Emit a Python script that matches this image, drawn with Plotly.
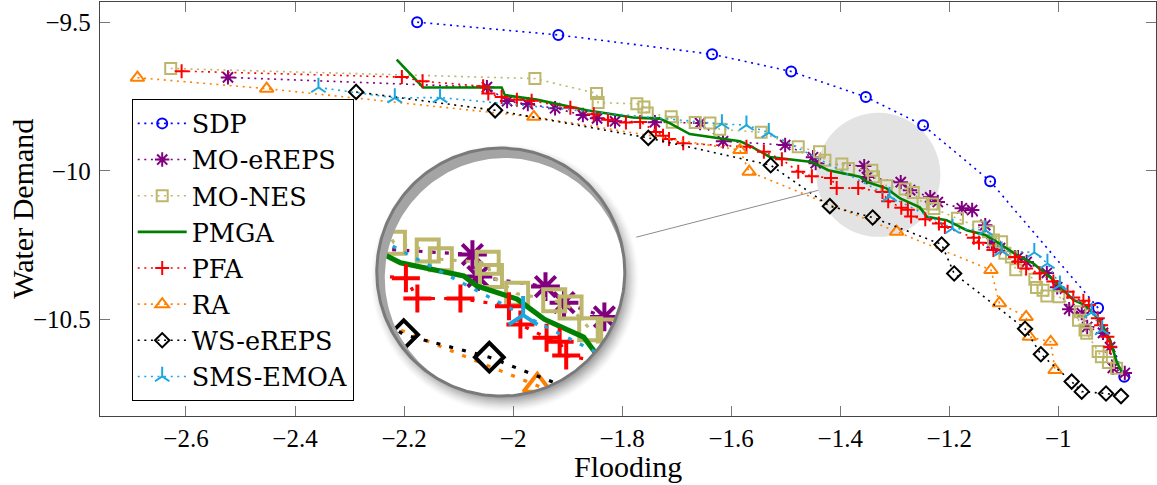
import numpy as np
import plotly.graph_objects as go

# ---------------- data ----------------
SDP_X = [-2.176, -1.917, -1.635, -1.490, -1.353, -1.248, -1.125, -0.927, -0.879]
SDP_Y = [-9.499, -9.542, -9.607, -9.665, -9.751, -9.846, -10.035, -10.462, -10.694]

MOEREPS_X = [-2.523, -2.048, -2.011, -1.973, -1.923, -1.872, -1.846, -1.813, -1.740, -1.657,
             -1.615, -1.501, -1.450, -1.445, -1.356, -1.351, -1.289, -1.272, -1.235, -1.221,
             -1.177, -1.158, -1.134, -1.122, -1.107, -1.074, -1.058, -1.021, -1.002, -0.980,
             -0.957, -0.947, -0.918, -0.905, -0.900, -0.878]
MOEREPS_Y = [-9.685, -9.718, -9.765, -9.775, -9.789, -9.812, -9.823, -9.833, -9.836, -9.839,
             -9.900, -9.913, -9.954, -9.974, -9.984, -10.021, -10.038, -10.065, -10.089, -10.105,
             -10.126, -10.132, -10.183, -10.243, -10.260, -10.291, -10.307, -10.344, -10.392, -10.466,
             -10.479, -10.526, -10.546, -10.594, -10.664, -10.681]

MONES_X = [-2.628, -1.960, -1.847, -1.844, -1.773, -1.760, -1.754, -1.710, -1.708, -1.666,
           -1.639, -1.621, -1.545, -1.477, -1.438, -1.428, -1.397, -1.385, -1.342, -1.339,
           -1.315, -1.281, -1.266, -1.248, -1.231, -1.228, -1.185, -1.146, -1.128, -1.119,
           -1.104, -1.098, -1.086, -1.078, -1.043, -1.040, -1.028, -1.021, -0.999, -0.960,
           -0.963, -0.951, -0.948, -0.927, -0.921, -0.908, -0.893]
MONES_Y = [-9.655, -9.689, -9.739, -9.770, -9.774, -9.785, -9.805, -9.818, -9.836, -9.837,
           -9.839, -9.860, -9.870, -9.919, -9.936, -9.964, -9.977, -9.992, -9.998, -10.020,
           -10.050, -10.061, -10.073, -10.110, -10.112, -10.127, -10.160, -10.189, -10.205, -10.233,
           -10.239, -10.278, -10.290, -10.333, -10.365, -10.393, -10.402, -10.422, -10.424, -10.475,
           -10.503, -10.536, -10.547, -10.609, -10.626, -10.646, -10.665]

PMGA_X = [-2.2135, -2.165, -2.021, -2.015, -1.957, -1.865, -1.780, -1.731, -1.712, -1.676,
          -1.584, -1.562, -1.529, -1.452, -1.422, -1.364, -1.352, -1.315, -1.290, -1.254,
          -1.241, -1.205, -1.168, -1.134, -1.113, -1.076, -1.046, -1.009, -0.9725, -0.951,
          -0.924, -0.905, -0.893, -0.884]
PMGA_Y = [-9.625, -9.719, -9.719, -9.745, -9.760, -9.796, -9.820, -9.824, -9.840, -9.876,
          -9.900, -9.919, -9.953, -9.970, -9.998, -10.020, -10.037, -10.059, -10.093, -10.123,
          -10.155, -10.166, -10.200, -10.216, -10.239, -10.284, -10.312, -10.368, -10.435, -10.452,
          -10.503, -10.570, -10.643, -10.677]

PFA_X = [-2.608, -2.204, -2.166, -2.055, -2.0455, -2.021, -1.993, -1.966, -1.895, -1.852,
         -1.826, -1.793, -1.767, -1.738, -1.725, -1.714, -1.688, -1.572, -1.540, -1.507,
         -1.477, -1.452, -1.417, -1.4065, -1.367, -1.3225, -1.312, -1.288, -1.276, -1.270,
         -1.244, -1.219, -1.208, -1.155, -1.1455, -1.119, -1.0795, -1.0735, -1.059, -1.034,
         -1.009, -0.983, -0.9725, -0.954, -0.944, -0.9275, -0.9215, -0.910, -0.905]
PFA_Y = [-9.664, -9.684, -9.698, -9.715, -9.739, -9.751, -9.760, -9.764, -9.787, -9.809,
         -9.828, -9.837, -9.835, -9.869, -9.882, -9.893, -9.907, -9.919, -9.936, -9.961,
         -10.003, -10.018, -10.024, -10.058, -10.058, -10.071, -10.102, -10.124, -10.131, -10.154,
         -10.163, -10.177, -10.189, -10.225, -10.242, -10.267, -10.290, -10.306, -10.329, -10.345,
         -10.373, -10.407, -10.427, -10.438, -10.452, -10.497, -10.520, -10.559, -10.593]

RA_X = [-2.689, -2.452, -1.962, -1.584, -1.567, -1.2965, -1.1235, -1.108, -1.059, -1.053, -1.014, -1.006]
RA_Y = [-9.686, -9.723, -9.818, -9.930, -10.003, -10.205, -10.334, -10.446, -10.492, -10.559, -10.576, -10.671]

WS_X = [-2.288, -2.033, -1.752, -1.5275, -1.419, -1.3405, -1.214, -1.191, -1.061, -1.032,
        -0.9755, -0.957, -0.9125, -0.885]
WS_Y = [-9.734, -9.796, -9.889, -9.981, -10.119, -10.157, -10.248, -10.346, -10.532, -10.618,
        -10.710, -10.744, -10.750, -10.759]

SMS_X = [-2.357, -2.217, -2.134, -1.617, -1.572, -1.531, -1.3095, -1.194, -1.1335, -1.104,
         -1.044, -1.020, -0.997, -0.939, -0.9195]
SMS_Y = [-9.719, -9.754, -9.753, -9.842, -9.846, -9.871, -10.086, -10.194, -10.200, -10.270,
         -10.275, -10.312, -10.385, -10.477, -10.536]

X_TICKS = [-2.6, -2.4, -2.2, -2.0, -1.8, -1.6, -1.4, -1.2, -1.0]
X_TICKTEXT = ["\u22122.6", "\u22122.4", "\u22122.2", "\u22122", "\u22121.8", "\u22121.6",
              "\u22121.4", "\u22121.2", "\u22121"]
Y_TICKS = [-9.5, -10.0, -10.5]
Y_TICKTEXT = ["\u22129.5", "\u221210", "\u221210.5"]

# ---------------- layout constants ----------------
FIG_W, FIG_H = 1157, 485
ML, MR, MT, MB = 100, 1, 2, 69
X_RANGE = [-2.7577, -0.8208]
Y_RANGE = [-10.826, -9.431]
PW = FIG_W - ML - MR
PH = FIG_H - MT - MB
KX = PW / (X_RANGE[1] - X_RANGE[0])
KY = PH / (Y_RANGE[1] - Y_RANGE[0])

FONT = "Liberation Serif, Times New Roman, serif"
LEG_FONT = "DejaVu Serif, serif"
DOT = "2px,4.6px"
DOT2 = "4px,9.2px"

# spy (magnifier) geometry
SPY_X, SPY_Y = -1.330, -10.0135     # centre of the small circle (data)
LENS_X, LENS_Y = -2.0226, -10.341   # centre of the big circle (data)
R_SMALL = 62.0                       # px
MAG = 2.0
R_BIG = R_SMALL * MAG

series = [
    dict(name="SDP", x=SDP_X, y=SDP_Y, color="#0000ff", symbol="circle-open", size=10, dash=DOT, lw=1.6),
    dict(name="MO-eREPS", x=MOEREPS_X, y=MOEREPS_Y, color="#800080", symbol="asterisk-open", size=12, dash=DOT, lw=1.6),
    dict(name="MO-NES", x=MONES_X, y=MONES_Y, color="#bdb76b", symbol="square-open", size=11, dash=DOT, lw=1.6),
    dict(name="PMGA", x=PMGA_X, y=PMGA_Y, color="#008000", symbol=None, size=0, dash="solid", lw=2.6),
    dict(name="PFA", x=PFA_X, y=PFA_Y, color="#ff0000", symbol="cross-thin-open", size=10, dash=DOT, lw=1.6),
    dict(name="RA", x=RA_X, y=RA_Y, color="#ff8000", symbol="triangle-up-open", size=12, dash=DOT, lw=1.6),
    dict(name="WS-eREPS", x=WS_X, y=WS_Y, color="#000000", symbol="diamond-open", size=11, dash=DOT, lw=1.6),
    dict(name="SMS-EMOA", x=SMS_X, y=SMS_Y, color="#1aa7e0", symbol="y-up-open", size=12, dash=DOT, lw=1.6),
]

fig = go.Figure()

# main traces
for s in series:
    kw = dict(x=s["x"], y=s["y"], name=s["name"],
              line=dict(color=s["color"], width=s["lw"], dash=s["dash"]))
    if s["symbol"]:
        kw["mode"] = "lines+markers"
        kw["marker"] = dict(symbol=s["symbol"], size=s["size"], color=s["color"],
                            line=dict(color=s["color"], width=2))
    else:
        kw["mode"] = "lines"
    fig.add_trace(go.Scatter(**kw))


def circle_xy(cx, cy, r, dx=0.0, dy=0.0, n=241, reverse=False):
    t = np.linspace(0, 2 * np.pi, n)
    if reverse:
        t = t[::-1]
    return cx + (dx + r * np.cos(t)) / KX, cy + (dy + r * np.sin(t)) / KY


def to_local(xs, ys):
    return (np.asarray(xs, float) - SPY_X) * KX, (np.asarray(ys, float) - SPY_Y) * KY


def to_lens(u, v):
    return LENS_X + MAG * u / KX, LENS_Y + MAG * v / KY


def clip_polyline(xs, ys, R):
    u, v = to_local(xs, ys)
    ox, oy = [], []
    cont = False
    for i in range(len(u) - 1):
        p0 = np.array([u[i], v[i]])
        d = np.array([u[i + 1] - u[i], v[i + 1] - v[i]])
        a = d @ d
        if a == 0:
            continue
        b = 2 * (p0 @ d)
        c = p0 @ p0 - R * R
        disc = b * b - 4 * a * c
        if disc <= 0:
            cont = False
            continue
        sq = np.sqrt(disc)
        t0 = max(0.0, (-b - sq) / (2 * a))
        t1 = min(1.0, (-b + sq) / (2 * a))
        if t0 >= t1:
            cont = False
            continue
        q0 = p0 + t0 * d
        q1 = p0 + t1 * d
        if not (cont and t0 <= 1e-9):
            if ox:
                ox.append(None)
                oy.append(None)
            X, Y = to_lens(*q0)
            ox.append(X)
            oy.append(Y)
        X, Y = to_lens(*q1)
        ox.append(X)
        oy.append(Y)
        cont = t1 >= 1 - 1e-9
    return ox, oy


# small spy circle (behind data)
fig.add_shape(type="circle", xref="x", yref="y", xsizemode="pixel", ysizemode="pixel",
              xanchor=SPY_X, yanchor=SPY_Y, x0=-R_SMALL, x1=R_SMALL, y0=-R_SMALL, y1=R_SMALL,
              fillcolor="#e3e3e3", line=dict(width=0), layer="below")

# connector line between circles (edge to edge)
dxp = (SPY_X - LENS_X) * KX
dyp = (SPY_Y - LENS_Y) * KY
L = np.hypot(dxp, dyp)
ux, uy = dxp / L, dyp / L
fig.add_trace(go.Scatter(
    x=[LENS_X + R_BIG * ux / KX, SPY_X - R_SMALL * ux / KX],
    y=[LENS_Y + R_BIG * uy / KY, SPY_Y - R_SMALL * uy / KY],
    mode="lines", line=dict(color="#8c8c8c", width=1), showlegend=False, hoverinfo="skip"))

# white lens disk
cx_, cy_ = circle_xy(LENS_X, LENS_Y, R_BIG)
fig.add_trace(go.Scatter(x=cx_, y=cy_, mode="lines", fill="toself", fillcolor="white",
                         line=dict(width=0, color="white"), showlegend=False, hoverinfo="skip"))

# magnified content
for s in series:
    lx, ly = clip_polyline(s["x"], s["y"], R_SMALL)
    if lx:
        fig.add_trace(go.Scatter(x=lx, y=ly, mode="lines", showlegend=False, hoverinfo="skip",
                                 line=dict(color=s["color"], width=s["lw"] * MAG,
                                           dash=(DOT2 if s["dash"] == DOT else s["dash"]))))
    if s["symbol"]:
        u, v = to_local(s["x"], s["y"])
        inside = u ** 2 + v ** 2 <= (R_SMALL - 0.5) ** 2
        if inside.any():
            mx, my = to_lens(u[inside], v[inside])
            fig.add_trace(go.Scatter(x=mx, y=my, mode="markers", showlegend=False, hoverinfo="skip",
                                     marker=dict(symbol=s["symbol"], size=s["size"] * MAG, color=s["color"],
                                                 line=dict(color=s["color"], width=2 * MAG))))

# outer white ring (clips spill-over of magnified markers)
ox_, oy_ = circle_xy(LENS_X, LENS_Y, R_BIG + 16)
ix_, iy_ = circle_xy(LENS_X, LENS_Y, R_BIG, reverse=True)
fig.add_trace(go.Scatter(x=list(ox_) + [None] + list(ix_), y=list(oy_) + [None] + list(iy_),
                         mode="lines", fill="toself", fillcolor="white",
                         line=dict(width=0, color="white"), showlegend=False, hoverinfo="skip"))

# drop shadow (gradient annuli, offset to lower right)
N_SH = 16
SH_DX, SH_DY = 4.0, -6.0
SH_R, SH_B = 127.0, 16.0
for k in range(N_SH, 0, -1):
    frac = k / N_SH
    r_out = SH_R + SH_B * (frac - 0.5)
    g = int(round(255 - 100 * (1 - frac) ** 1.4))
    ox_, oy_ = circle_xy(LENS_X, LENS_Y, r_out, dx=SH_DX, dy=SH_DY)
    ix_, iy_ = circle_xy(LENS_X, LENS_Y, R_BIG, reverse=True)
    col = f"rgb({g},{g},{g})"
    fig.add_trace(go.Scatter(x=list(ox_) + list(ix_), y=list(oy_) + list(iy_),
                             mode="lines", fill="toself", fillcolor=col,
                             line=dict(width=0, color=col), showlegend=False, hoverinfo="skip"))

# lens outline
rx_, ry_ = circle_xy(LENS_X, LENS_Y, R_BIG)
fig.add_trace(go.Scatter(x=rx_, y=ry_, mode="lines", line=dict(color="#7a7a7a", width=3),
                         showlegend=False, hoverinfo="skip"))

axis_common = dict(showgrid=False, zeroline=False, showline=True, linecolor="#444444", linewidth=1.3,
                   mirror="ticks", ticks="inside", ticklen=10, tickwidth=1.1, tickcolor="#777777",
                   tickfont=dict(family=FONT, size=25, color="black"))

fig.update_layout(
    width=FIG_W, height=FIG_H,
    margin=dict(l=ML, r=MR, t=MT, b=MB),
    paper_bgcolor="white", plot_bgcolor="white",
    font=dict(family=FONT, color="black"),
    xaxis=dict(range=X_RANGE, tickmode="array", tickvals=X_TICKS, ticktext=X_TICKTEXT,
               ticklabelstandoff=0, **axis_common),
    yaxis=dict(range=Y_RANGE, tickmode="array", tickvals=Y_TICKS, ticktext=Y_TICKTEXT,
               ticklabelstandoff=3, **axis_common),
    legend=dict(x=(131.7 - ML) / PW, y=(PH + MT - 99.3) / PH, xanchor="left", yanchor="top",
                bgcolor="white", bordercolor="black", borderwidth=1,
                font=dict(family=LEG_FONT, size=25.5, color="black"),
                tracegroupgap=0, itemwidth=49),
    showlegend=True,
    annotations=[
        dict(text="Flooding", xref="paper", yref="paper", x=0.5, y=(PH + MT - 466) / PH,
             xanchor="center", yanchor="middle", showarrow=False,
             font=dict(family=FONT, size=30, color="black")),
        dict(text="Water Demand", xref="paper", yref="paper", x=(21.7 - ML) / PW, y=0.5,
             xanchor="center", yanchor="middle", textangle=-90, showarrow=False,
             font=dict(family=FONT, size=30, color="black")),
    ],
)

fig.write_html("out.html", config={"displayModeBar": False},
               post_script="document.body.style.margin='0px';")
